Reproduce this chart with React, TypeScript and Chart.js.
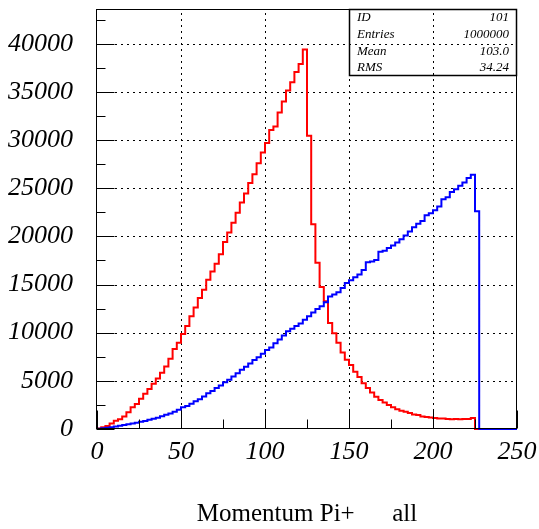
import React, { useEffect, useRef } from 'react';
import { Chart, registerables } from 'chart.js';

Chart.register(...registerables);

// Histogram binning: 100 bins of width 2.5 over [0, 250]
const BIN_WIDTH = 2.5;
const X_MIN = 0;
const X_MAX = 250;
const Y_MAX = 43600;

const xTickValues = [0, 50, 100, 150, 200, 250];
const yTickValues = [0, 5000, 10000, 15000, 20000, 25000, 30000, 35000, 40000];
const xMajorStep = 50;
const xMinorStep = 25;
const yMajorStep = 5000;
const yMinorStep = 2500;

// Bin contents, red histogram
const redCounts = [
  60, 170, 320, 580, 850, 1000, 1300, 1750, 2250, 2600,
  3150, 3650, 4150, 4700, 5250, 5850, 6500, 7300, 8300, 8950,
  9850, 10700, 11700, 12600, 13600, 14450, 15500, 16350, 17150, 18150,
  19400, 20400, 21400, 22450, 23500, 24450, 25550, 26450, 27600, 28700,
  29700, 31050, 31400, 32850, 34000, 35150, 36000, 37050, 37900, 39400,
  30450, 21250, 17250, 14750, 13250, 11000, 9950, 8950, 7950, 7200,
  6650, 5950, 5400, 4750, 4250, 3800, 3350, 3000, 2750, 2500,
  2250, 2050, 1900, 1800, 1650, 1500, 1450, 1300, 1250, 1200,
  1150, 1100, 1080, 1050, 1020, 1050, 1000, 1030, 1050, 1150,
  0, 0, 0, 0, 0, 0, 0, 0, 0, 0,
];

// Bin contents, blue histogram
const blueCounts = [
  30, 80, 130, 190, 260, 330, 410, 490, 570, 650,
  740, 840, 950, 1060, 1180, 1320, 1470, 1620, 1800, 2000,
  2250, 2400, 2620, 2880, 3100, 3380, 3700, 3950, 4250, 4520,
  4850, 5100, 5450, 5800, 6150, 6450, 6800, 7150, 7450, 7800,
  8200, 8450, 8900, 9300, 9700, 10150, 10400, 10700, 10950, 11350,
  11700, 12100, 12450, 12750, 13150, 13750, 13950, 14200, 14650, 15150,
  15450, 15750, 16050, 16500, 17300, 17400, 17550, 18400, 18500, 18800,
  19050, 19350, 19700, 20100, 20500, 20950, 21300, 21600, 22200, 22400,
  22700, 23100, 23850, 24050, 24600, 24900, 25250, 25600, 26050, 26400,
  22600, 0, 0, 0, 0, 0, 0, 0, 0, 0,
];

const statLabels = ['ID', 'Entries', 'Mean', 'RMS'];
const statValues = ['101', '1000000', '103.0', '34.24'];
const axisTitle = 'Momentum Pi+      all';

const SERIF = '"Liberation Serif", "Times New Roman", serif';

// Outline of a histogram: each bin's content held from its lower edge to the next edge.
function outline(counts: number[]) {
  const pts = [{ x: X_MIN, y: 0 }];
  counts.forEach((c, i) => pts.push({ x: X_MIN + i * BIN_WIDTH, y: c }));
  pts.push({ x: X_MIN + counts.length * BIN_WIDTH, y: 0 });
  return pts;
}

const frameLabels = {
  id: 'frameLabels',
  beforeDatasetsDraw(chart: any) {
    const { ctx, chartArea: a, scales } = chart;
    const xs = scales.x;
    const ys = scales.y;
    ctx.save();
    ctx.strokeStyle = '#000';
    ctx.lineWidth = 1;
    ctx.setLineDash([2, 4]);
    for (let v = X_MIN + xMajorStep; v < X_MAX; v += xMajorStep) {
      const px = Math.round(xs.getPixelForValue(v)) + 0.5;
      ctx.beginPath();
      ctx.moveTo(px, a.bottom);
      ctx.lineTo(px, a.top);
      ctx.stroke();
    }
    for (let v = yMajorStep; v < Y_MAX; v += yMajorStep) {
      const py = Math.round(ys.getPixelForValue(v)) + 0.5;
      ctx.beginPath();
      ctx.moveTo(a.left, py);
      ctx.lineTo(a.right, py);
      ctx.stroke();
    }
    ctx.restore();
  },
  afterDatasetsDraw(chart: any) {
    const { ctx, chartArea: a, scales } = chart;
    const xs = scales.x;
    const ys = scales.y;
    const L = Math.round(a.left) - 0.5;
    const R = Math.round(a.right) - 0.5;
    const T = Math.round(a.top) + 0.5;
    const B = Math.round(a.bottom) - 0.5;
    ctx.save();
    ctx.strokeStyle = '#000';
    ctx.lineWidth = 1;
    ctx.setLineDash([]);
    ctx.strokeRect(L, T, R - L, B - T);

    // inward tick marks on the left and bottom axes
    ctx.beginPath();
    for (let v = 0; v < Y_MAX; v += yMinorStep) {
      const py = Math.round(ys.getPixelForValue(v)) + 0.5;
      const len = v % yMajorStep === 0 ? 18 : 9;
      ctx.moveTo(L, py);
      ctx.lineTo(L + len, py);
    }
    for (let v = X_MIN; v <= X_MAX; v += xMinorStep) {
      const px = Math.round(xs.getPixelForValue(v)) + 0.5;
      const len = v % xMajorStep === 0 ? 18 : 9;
      ctx.moveTo(px, B);
      ctx.lineTo(px, B - len);
    }
    ctx.stroke();

    // statistics box
    const bx0 = Math.round(a.right) - 168;
    const by0 = Math.round(a.top);
    const bw = 167;
    const bh = 66;
    ctx.lineWidth = 1.5;
    ctx.strokeRect(bx0 + 0.5, by0 + 0.5, bw, bh);
    ctx.fillStyle = '#000';
    ctx.font = `italic 13px ${SERIF}`;
    ctx.textBaseline = 'alphabetic';
    const rowBaselines = [12, 29, 46, 62];
    statLabels.forEach((lab, i) => {
      ctx.textAlign = 'left';
      ctx.fillText(lab, bx0 + 8, by0 + rowBaselines[i]);
      ctx.textAlign = 'right';
      ctx.fillText(statValues[i], bx0 + bw - 7, by0 + rowBaselines[i]);
    });
    ctx.restore();
  },
};

export default function App() {
  const ref = useRef<HTMLCanvasElement | null>(null);

  useEffect(() => {
    if (!ref.current) return;
    const chart = new Chart(ref.current, {
      type: 'line',
      data: {
        datasets: [
          {
            label: 'blue',
            data: outline(blueCounts),
            borderColor: '#0000ff',
            borderWidth: 2,
            stepped: 'before',
            pointRadius: 0,
            fill: false,
            clip: false as any,
          },
          {
            label: 'red',
            data: outline(redCounts),
            borderColor: '#ff0000',
            borderWidth: 2,
            stepped: 'before',
            pointRadius: 0,
            fill: false,
            clip: false as any,
          },
        ],
      },
      options: {
        animation: false,
        responsive: false,
        devicePixelRatio: 1,
        layout: { padding: { left: 0, right: 22, top: 9, bottom: 0 } },
        plugins: { legend: { display: false }, tooltip: { enabled: false } },
        scales: {
          x: {
            type: 'linear',
            min: X_MIN,
            max: X_MAX,
            grid: { display: false, drawTicks: false },
            border: { display: false },
            afterBuildTicks(scale: any) {
              scale.ticks = xTickValues.map((value) => ({ value }));
            },
            ticks: {
              padding: 8,
              color: '#000',
              maxRotation: 0,
              autoSkip: false,
              callback: (v: any) => String(v),
              font: { family: SERIF, size: 26, style: 'italic' },
            },
            title: {
              display: true,
              text: axisTitle,
              color: '#000',
              padding: { top: 4, bottom: 0 },
              font: { family: SERIF, size: 25 },
            },
            afterFit(scale: any) {
              scale.height = 100;
              scale.paddingLeft = 0;
              scale.paddingRight = 0;
            },
          },
          y: {
            type: 'linear',
            min: 0,
            max: Y_MAX,
            grid: { display: false, drawTicks: false },
            border: { display: false },
            afterBuildTicks(scale: any) {
              scale.ticks = yTickValues.map((value) => ({ value }));
            },
            ticks: {
              padding: 24,
              color: '#000',
              autoSkip: false,
              callback: (v: any) => String(v),
              font: { family: SERIF, size: 26, style: 'italic' },
            },
            afterFit(scale: any) {
              scale.width = 97;
              scale.paddingTop = 0;
              scale.paddingBottom = 0;
            },
          },
        },
      },
      plugins: [frameLabels],
    });
    return () => chart.destroy();
  }, []);

  return (
    <div style={{ position: 'fixed', left: 0, top: 0, width: 539, height: 529, background: '#fff' }}>
      <canvas ref={ref} width={539} height={529} />
    </div>
  );
}
